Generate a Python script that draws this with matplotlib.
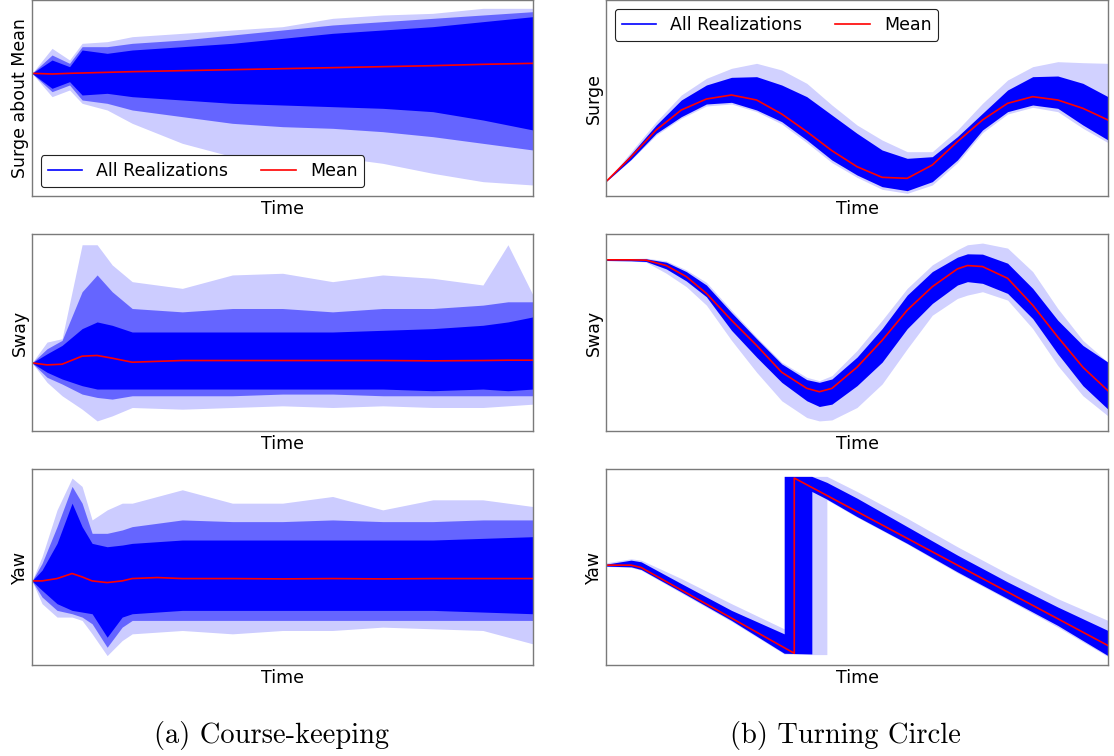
import matplotlib
matplotlib.use("Agg")
import matplotlib.pyplot as plt
from matplotlib.lines import Line2D

# ---------------- data (arbitrary vertical units) ----------------
# (a) Course-keeping : Surge about Mean
ck_surge_t = [0, 0.04, 0.075, 0.10, 0.15, 0.2, 0.3, 0.4, 0.5, 0.6, 0.7, 0.8, 0.9, 1.0]
ck_surge_mean = [368, 366, 368, 369, 371, 373, 376, 379, 382, 385, 388, 391, 395, 398]
ck_surge_core_hi = [368, 408, 388, 438, 428, 438, 448, 458, 473, 488, 498, 508, 523, 538]
ck_surge_core_lo = [368, 323, 343, 303, 308, 298, 288, 278, 273, 268, 263, 253, 228, 198]
ck_surge_mid_hi = [368, 423, 398, 448, 448, 458, 468, 483, 498, 513, 523, 533, 543, 553]
ck_surge_mid_lo = [368, 313, 333, 288, 278, 258, 238, 218, 208, 203, 193, 178, 158, 138]
ck_surge_out_hi = [368, 443, 408, 458, 463, 478, 488, 498, 508, 533, 543, 548, 563, 563]
ck_surge_out_lo = [368, 298, 318, 278, 258, 218, 158, 118, 108, 118, 98, 68, 43, 33]
ck_surge_ylim = (0, 588)

# (a) Course-keeping : Sway
ck_sway_t = [0, 0.03, 0.06, 0.1, 0.13, 0.16, 0.2, 0.3, 0.4, 0.5, 0.6, 0.7, 0.8, 0.9, 0.95, 1.0]
ck_sway_mean = [203, 197, 199, 223, 225, 217, 205, 210, 210, 210, 210, 210, 209, 210, 211, 211]
ck_sway_core_hi = [203, 230, 255, 305, 325, 315, 295, 295, 295, 295, 295, 300, 305, 315, 325, 340]
ck_sway_core_lo = [203, 175, 155, 135, 125, 125, 125, 125, 125, 125, 125, 125, 120, 125, 120, 125]
ck_sway_mid_hi = [203, 245, 270, 415, 465, 415, 365, 355, 365, 365, 355, 365, 365, 375, 385, 385]
ck_sway_mid_lo = [203, 160, 140, 110, 100, 95, 105, 105, 105, 110, 110, 105, 105, 105, 105, 105]
ck_sway_out_hi = [203, 265, 275, 555, 555, 495, 445, 425, 465, 470, 445, 465, 455, 435, 555, 405]
ck_sway_out_lo = [203, 145, 105, 65, 30, 45, 70, 65, 70, 75, 70, 75, 70, 70, 75, 80]
ck_sway_ylim = (0, 587)

# (a) Course-keeping : Yaw
ck_yaw_t = [0, 0.02, 0.05, 0.08, 0.1, 0.12, 0.15, 0.18, 0.2, 0.25, 0.3, 0.4, 0.5, 0.6, 0.7, 0.8, 0.9, 1.0]
ck_yaw_mean = [251, 251, 258, 273, 263, 251, 246, 251, 258, 261, 258, 258, 257, 258, 257, 258, 258, 258]
ck_yaw_core_hi = [251, 283, 363, 483, 413, 363, 353, 358, 363, 368, 373, 373, 373, 373, 373, 373, 378, 383]
ck_yaw_core_lo = [251, 223, 183, 163, 158, 153, 83, 143, 153, 158, 163, 163, 163, 163, 163, 163, 158, 153]
ck_yaw_mid_hi = [251, 303, 413, 533, 483, 393, 393, 403, 413, 423, 433, 428, 428, 433, 428, 428, 433, 433]
ck_yaw_mid_lo = [251, 203, 163, 153, 143, 123, 53, 113, 133, 133, 133, 133, 133, 133, 133, 133, 133, 133]
ck_yaw_out_hi = [251, 323, 463, 558, 533, 433, 463, 483, 483, 503, 523, 483, 483, 503, 463, 493, 493, 473]
ck_yaw_out_lo = [251, 183, 143, 143, 133, 93, 28, 73, 93, 98, 103, 93, 103, 103, 113, 108, 103, 63]
ck_yaw_ylim = (0, 585)

# (b) Turning Circle : Surge
tc_surge_t = [0, 0.05, 0.1, 0.15, 0.2, 0.25, 0.3, 0.35, 0.4, 0.45, 0.5,
              0.55, 0.6, 0.65, 0.7, 0.75, 0.8, 0.85, 0.9, 0.95, 1.0]
tc_surge_mean = [43, 118, 198, 258, 291, 303, 288, 246, 193, 136, 88,
                 56, 53, 93, 163, 228, 278, 298, 288, 263, 228]
tc_surge_core_hi = [43, 126, 213, 288, 333, 356, 358, 333, 298, 243, 188,
                    138, 113, 118, 178, 248, 318, 358, 360, 338, 298]
tc_surge_core_lo = [43, 110, 188, 238, 276, 281, 258, 223, 168, 108, 63,
                    28, 16, 43, 108, 198, 253, 273, 263, 213, 168]
tc_surge_out_hi = [43, 133, 223, 303, 353, 383, 398, 378, 338, 273, 213,
                   168, 133, 133, 198, 278, 348, 388, 403, 400, 398]
tc_surge_out_lo = [43, 108, 183, 233, 270, 276, 253, 216, 160, 100, 56,
                   20, 8, 33, 100, 190, 246, 266, 253, 203, 160]
tc_surge_ylim = (0, 588)

# (b) Turning Circle : Sway
tc_sway_t = [0, 0.05, 0.08, 0.12, 0.16, 0.2, 0.25, 0.3, 0.35, 0.4, 0.425, 0.45,
             0.5, 0.55, 0.6, 0.65, 0.7, 0.72, 0.75, 0.8, 0.85, 0.9, 0.95, 1.0]
tc_sway_mean = [510, 510, 509, 493, 460, 410, 330, 255, 175, 127, 117, 127,
                190, 270, 360, 430, 483, 493, 490, 455, 375, 280, 190, 120]
tc_sway_core_hi = [512, 513, 513, 503, 475, 435, 353, 275, 200, 153, 145, 155,
                   220, 305, 405, 475, 518, 528, 527, 500, 425, 330, 255, 205]
tc_sway_core_lo = [508, 507, 505, 483, 447, 400, 300, 220, 145, 90, 73, 80,
                   135, 205, 305, 380, 435, 445, 440, 410, 335, 230, 135, 65]
tc_sway_out_hi = [512, 514, 515, 507, 480, 443, 360, 280, 205, 160, 150, 165,
                  240, 330, 425, 495, 540, 555, 560, 545, 475, 365, 270, 205]
tc_sway_out_lo = [508, 507, 503, 470, 430, 375, 270, 175, 90, 40, 30, 33,
                  70, 140, 245, 345, 395, 405, 415, 390, 305, 195, 105, 45]
tc_sway_ylim = (0, 587)

# (b) Turning Circle : Yaw (wrapped angle, with jump)
tc_yaw_t = [0, 0.05, 0.07, 0.15, 0.25, 0.355, 0.355, 0.41, 0.41, 0.44, 0.44, 0.5, 0.6, 0.7, 0.8, 0.9, 1.0]
tc_yaw_core_hi = [301, 313, 308, 243, 163, 93, 563, 563, 563, 545, 545, 498, 413, 328, 248, 173, 103]
tc_yaw_core_lo = [295, 293, 285, 218, 133, 35, 35, 33, 518, 495, 495, 443, 363, 278, 198, 118, 28]
tc_yaw_out_hi = [305, 317, 313, 258, 183, 108, 563, 563, 563, 563, 563, 518, 438, 353, 273, 198, 133]
tc_yaw_out_lo = [294, 291, 283, 215, 130, 33, 33, 31, 31, 31, 493, 441, 361, 275, 195, 113, 25]
tc_yaw_mean_t = [0, 0.05, 0.07, 0.375, 0.375, 1.0]
tc_yaw_mean = [298, 298, 291, 35, 558, 58]
tc_yaw_ylim = (0, 585)

ylabels_left = ["Surge about Mean", "Sway", "Yaw"]
ylabels_right = ["Surge", "Sway", "Yaw"]
xlabel = "Time"
legend_labels = ["All Realizations", "Mean"]
captions = ["(a) Course-keeping", "(b) Turning Circle"]

# ---------------- figure ----------------
W, H = 1114, 756
fig = plt.figure(figsize=(W / 100, H / 100), dpi=100)

col_x = [(32, 533), (606, 1108)]
row_y = [(0, 196), (234, 431), (469, 665)]
FS = 12.5

def make_ax(c, r):
    x0, x1 = col_x[c]
    y0, y1 = row_y[r]
    return fig.add_axes([x0 / W, 1 - y1 / H, (x1 - x0) / W, (y1 - y0) / H])

BLUE = "#0000ff"
RED = "#ff0000"

def style(ax, ylabel, ylim):
    ax.set_xlim(0, 1)
    ax.set_ylim(*ylim)
    ax.set_xticks([])
    ax.set_yticks([])
    ax.set_xlabel(xlabel, fontsize=FS, labelpad=3)
    ax.set_ylabel(ylabel, fontsize=FS, labelpad=2)
    for s in ax.spines.values():
        s.set_color("#7a7a7a")
        s.set_linewidth(1.0)

def bands(ax, t, core, mid, out, out_alpha=0.2, mid_alpha=0.5):
    ax.fill_between(t, out[0], out[1], color=BLUE, alpha=out_alpha, lw=0)
    if mid is not None:
        ax.fill_between(t, mid[0], mid[1], color=BLUE, alpha=mid_alpha, lw=0)
    ax.fill_between(t, core[0], core[1], color=BLUE, alpha=1.0, lw=0)

def add_legend(ax, loc):
    handles = [Line2D([0], [0], color=BLUE, lw=1.2), Line2D([0], [0], color=RED, lw=1.2)]
    leg = ax.legend(handles, legend_labels, loc=loc, ncol=2, fontsize=FS,
                    frameon=True, fancybox=True, framealpha=1.0,
                    handlelength=2.0, columnspacing=1.9, borderpad=0.4)
    leg.get_frame().set_edgecolor("#222222")
    leg.get_frame().set_linewidth(0.8)

# Left column
ax = make_ax(0, 0)
bands(ax, ck_surge_t, (ck_surge_core_lo, ck_surge_core_hi), (ck_surge_mid_lo, ck_surge_mid_hi),
      (ck_surge_out_lo, ck_surge_out_hi))
ax.plot(ck_surge_t, ck_surge_mean, color=RED, lw=1.2)
style(ax, ylabels_left[0], ck_surge_ylim)
add_legend(ax, "lower left")

ax = make_ax(0, 1)
bands(ax, ck_sway_t, (ck_sway_core_lo, ck_sway_core_hi), (ck_sway_mid_lo, ck_sway_mid_hi),
      (ck_sway_out_lo, ck_sway_out_hi))
ax.plot(ck_sway_t, ck_sway_mean, color=RED, lw=1.2)
style(ax, ylabels_left[1], ck_sway_ylim)

ax = make_ax(0, 2)
bands(ax, ck_yaw_t, (ck_yaw_core_lo, ck_yaw_core_hi), (ck_yaw_mid_lo, ck_yaw_mid_hi),
      (ck_yaw_out_lo, ck_yaw_out_hi))
ax.plot(ck_yaw_t, ck_yaw_mean, color=RED, lw=1.2)
style(ax, ylabels_left[2], ck_yaw_ylim)

# Right column
ax = make_ax(1, 0)
bands(ax, tc_surge_t, (tc_surge_core_lo, tc_surge_core_hi), None,
      (tc_surge_out_lo, tc_surge_out_hi), out_alpha=0.18)
ax.plot(tc_surge_t, tc_surge_mean, color=RED, lw=1.2)
style(ax, ylabels_right[0], tc_surge_ylim)
add_legend(ax, "upper left")

ax = make_ax(1, 1)
bands(ax, tc_sway_t, (tc_sway_core_lo, tc_sway_core_hi), None,
      (tc_sway_out_lo, tc_sway_out_hi), out_alpha=0.18)
ax.plot(tc_sway_t, tc_sway_mean, color=RED, lw=1.2)
style(ax, ylabels_right[1], tc_sway_ylim)

ax = make_ax(1, 2)
bands(ax, tc_yaw_t, (tc_yaw_core_lo, tc_yaw_core_hi), None,
      (tc_yaw_out_lo, tc_yaw_out_hi), out_alpha=0.18)
ax.plot(tc_yaw_mean_t, tc_yaw_mean, color=RED, lw=1.2)
style(ax, ylabels_right[2], tc_yaw_ylim)

# Captions
fig.text(271 / W, 1 - 736 / H, captions[0], ha="center", va="center",
         fontsize=20.5, family="cmr10")
fig.text(845 / W, 1 - 736 / H, captions[1], ha="center", va="center",
         fontsize=20.5, family="cmr10")

fig.savefig("out.png", dpi=100)
